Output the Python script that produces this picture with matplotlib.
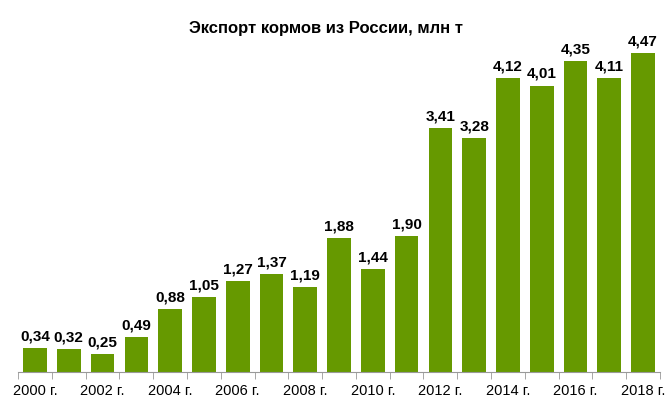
import matplotlib.pyplot as plt
import numpy as np

plt.rcParams['font.family'] = ['Liberation Sans', 'DejaVu Sans']

years = list(range(2000, 2019))
values = [0.34, 0.32, 0.25, 0.49, 0.88, 1.05, 1.27, 1.37, 1.19, 1.88,
          1.44, 1.90, 3.41, 3.28, 4.12, 4.01, 4.35, 4.11, 4.47]
tick_labels = [f"{y} г." if y % 2 == 0 else "" for y in years]

fig = plt.figure(figsize=(6.72, 4.10), dpi=100)
ax = fig.add_axes([0.027, 0.090, 0.955, 0.805])

x = np.arange(len(years))
ax.bar(x, values, width=0.7, color='#669900')

for xi, v in zip(x, values):
    ax.text(xi, v + 0.08, f"{v:.2f}".replace('.', ','), ha='center', va='bottom',
            fontsize=11, fontweight='bold')

ax.set_xlim(-0.5, len(years) - 0.5)
ax.set_ylim(0, 4.62)
ax.set_yticks([])
ax.set_xticks(x)
ax.set_xticklabels(tick_labels, fontsize=10.5)
ax.tick_params(axis='x', which='major', length=0, pad=8)
ax.set_xticks(np.arange(-0.5, len(years)), minor=True)
ax.tick_params(axis='x', which='minor', length=5, color='#999999')
for s in ['top', 'right', 'left']:
    ax.spines[s].set_visible(False)
ax.spines['bottom'].set_color('#999999')

fig.text(0.485, 0.93, "Экспорт кормов из России, млн т", ha='center', va='center',
         fontsize=12, fontweight='bold')

fig.savefig('out.png', dpi=100)
